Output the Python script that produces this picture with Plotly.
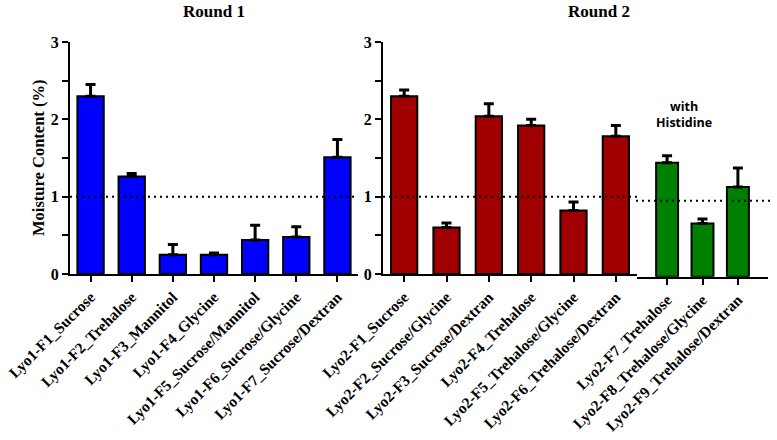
import plotly.graph_objects as go

W, H = 777, 440

# ---------------- data ----------------
r1_labels = ["Lyo1-F1_Sucrose", "Lyo1-F2_Trehalose", "Lyo1-F3_Mannitol", "Lyo1-F4_Glycine",
             "Lyo1-F5_Sucrose/Mannitol", "Lyo1-F6_Sucrose/Glycine", "Lyo1-F7_Sucrose/Dextran"]
r1_values = [2.30, 1.26, 0.25, 0.25, 0.44, 0.48, 1.51]
r1_errors = [0.15, 0.04, 0.13, 0.02, 0.19, 0.13, 0.23]

r2_labels = ["Lyo2-F1_Sucrose", "Lyo2-F2_Sucrose/Glycine", "Lyo2-F3_Sucrose/Dextran",
             "Lyo2-F4_Trehalose", "Lyo2-F5_Trehalose/Glycine", "Lyo2-F6_Trehalose/Dextran"]
r2_values = [2.30, 0.60, 2.04, 1.92, 0.82, 1.78]
r2_errors = [0.08, 0.06, 0.16, 0.08, 0.11, 0.14]

his_labels = ["Lyo2-F7_Trehalose", "Lyo2-F8_Trehalose/Glycine", "Lyo2-F9_Trehalose/Dextran"]
his_values = [1.50, 0.70, 1.18]
his_errors = [0.09, 0.06, 0.25]

y_tickvals = [0, 0.5, 1, 1.5, 2, 2.5, 3]
y_ticktext = ["0", "", "1", "", "2", "", "3"]
threshold = 1.0

# ---------------- style ----------------
SERIF = "Liberation Serif"
BLUE, RED, GREEN = "#0000FF", "#A00000", "#008000"

def px(x):
    return x / W

def py(y):
    return 1 - y / H

fig = go.Figure()

def add_bars(labels, values, errors, color, xa, ya, width):
    fig.add_trace(go.Bar(
        x=labels, y=values, xaxis=xa, yaxis=ya, width=width,
        marker=dict(color=color, line=dict(color="black", width=2)),
        error_y=dict(type="data", array=errors, arrayminus=[0] * len(errors),
                     symmetric=False, color="black", thickness=3, width=5),
        showlegend=False, hoverinfo="x+y",
    ))

add_bars(r1_labels, r1_values, r1_errors, BLUE, "x", "y", 0.64)
add_bars(r2_labels, r2_values, r2_errors, RED, "x2", "y2", 0.62)
add_bars(his_labels, his_values, his_errors, GREEN, "x3", "y3", 0.62)

xcommon = dict(type="category", showline=True, linecolor="black", linewidth=2,
               ticks="outside", ticklen=6, tickwidth=2, tickcolor="black",
               tickangle=-45, tickfont=dict(family=SERIF, size=15.5, color="black", weight="bold"),
               showgrid=False, zeroline=False, fixedrange=True, automargin=False)
ycommon = dict(range=[0, 3], tickvals=y_tickvals, ticktext=y_ticktext,
               showline=True, linecolor="black", linewidth=2,
               ticks="outside", ticklen=6, tickwidth=2, tickcolor="black",
               tickfont=dict(family=SERIF, size=16, color="black", weight="bold"),
               showgrid=False, zeroline=False, fixedrange=True, automargin=False)

x1 = (70, 358)
x2 = (383, 637)
x3 = (637, 768)

fig.update_layout(
    width=W, height=H,
    margin=dict(l=0, r=0, t=0, b=0, autoexpand=False),
    paper_bgcolor="white", plot_bgcolor="rgba(0,0,0,0)",
    bargap=0.3,
    xaxis=dict(xcommon, domain=[px(x1[0]), px(x1[1])], anchor="y", range=[-0.5, 6.5]),
    xaxis2=dict(xcommon, domain=[px(x2[0]), px(x2[1])], anchor="y2", range=[-0.5, 5.5]),
    xaxis3=dict(xcommon, domain=[px(x3[0]), px(x3[1])], anchor="y3", range=[-0.85, 2.85]),
    yaxis=dict(ycommon, domain=[py(274), py(42)], anchor="x"),
    yaxis2=dict(ycommon, domain=[py(274), py(42)], anchor="x2"),
    yaxis3=dict(ycommon, domain=[py(276.7), py(48.7)], anchor="x3",
                showline=False, ticks="", showticklabels=False),
)

# threshold dotted lines
for xa, ya in [(x1, "y"), (x2, "y2"), ((636, 774), "y3")]:
    fig.add_shape(type="line", xref="paper", yref=ya,
                  x0=px(xa[0]), x1=px(xa[1]), y0=threshold, y1=threshold,
                  line=dict(color="black", width=2, dash="2px,4px"))

# titles & annotations
def note(x, y, text, size, family=SERIF, angle=0):
    fig.add_annotation(x=px(x), y=py(y), xref="paper", yref="paper", showarrow=False,
                       xanchor="center", yanchor="middle", textangle=angle,
                       text=text, align="center",
                       font=dict(family=family, size=size, color="black"))

note(214, 12, "<b>Round 1</b>", 17)
note(599, 11, "<b>Round 2</b>", 17)
note(38, 158, "<b>Moisture Content (%)</b>", 16.5, angle=-90)
note(684, 114.5, "<b>with<br>Histidine</b>", 12.5, family="Open Sans")

fig.write_html("out.html",
               config={"displayModeBar": False},
               post_script="document.body.style.margin='0';document.body.style.overflow='hidden';")
